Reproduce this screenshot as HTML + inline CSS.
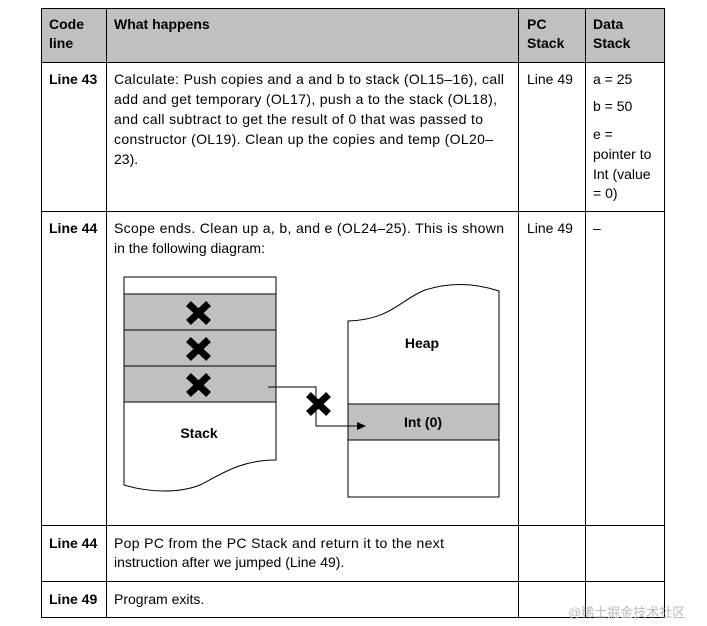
<!DOCTYPE html>
<html><head><meta charset="utf-8"><style>
html,body{margin:0;padding:0;background:#fff;}
svg{display:block;}
text{font-family:"Liberation Sans Narrow","Liberation Sans",Arial,sans-serif;font-size:14px;fill:#000;}
.b{font-weight:bold;}
</style></head><body>
<svg width="707" height="626" viewBox="0 0 707 626" xmlns="http://www.w3.org/2000/svg">
<rect x="41" y="8" width="623" height="54" fill="#c0c0c0"/>
<g stroke="#000" stroke-width="1" fill="none">
<rect x="41.5" y="8.5" width="623" height="609"/>
<line x1="41" y1="62.5" x2="664" y2="62.5"/>
<line x1="41" y1="211.5" x2="664" y2="211.5"/>
<line x1="41" y1="525.5" x2="664" y2="525.5"/>
<line x1="41" y1="581.5" x2="664" y2="581.5"/>
<line x1="106.5" y1="8" x2="106.5" y2="617"/>
<line x1="518.5" y1="8" x2="518.5" y2="617"/>
<line x1="585.5" y1="8" x2="585.5" y2="617"/>
</g>
<text class="b" x="49" y="29">Code</text>
<text class="b" x="49" y="48">line</text>
<text class="b" x="114" y="29">What happens</text>
<text class="b" x="527" y="29">PC</text>
<text class="b" x="527" y="48">Stack</text>
<text class="b" x="593" y="29">Data</text>
<text class="b" x="593" y="48">Stack</text>

<text class="b" x="49" y="84">Line 43</text>
<text x="114" y="84" textLength="390">Calculate: Push copies and a and b to stack (OL15–16), call</text>
<text x="114" y="104" textLength="383">add and get temporary (OL17), push a to the stack (OL18),</text>
<text x="114" y="124" textLength="369">and call subtract to get the result of 0 that was passed to</text>
<text x="114" y="144" textLength="379">constructor (OL19). Clean up the copies and temp (OL20–</text>
<text x="114" y="164">23).</text>
<text x="527" y="84">Line 49</text>
<text x="593" y="84">a = 25</text>
<text x="593" y="111">b = 50</text>
<text x="593" y="139">e =</text>
<text x="593" y="159">pointer to</text>
<text x="593" y="179">Int (value</text>
<text x="593" y="198">= 0)</text>

<text class="b" x="49" y="233">Line 44</text>
<text x="114" y="233" textLength="390">Scope ends. Clean up a, b, and e (OL24–25). This is shown</text>
<text x="114" y="253">in the following diagram:</text>
<text x="527" y="233">Line 49</text>
<text x="593" y="233">–</text>

<g stroke="#000" stroke-width="1">
<rect x="124" y="294" width="152" height="108" fill="#c0c0c0"/>
<path d="M124 277 H276 V460 C240 460 220 475 200 485 C180 493 150 493 124 485 Z" fill="none"/>
<line x1="124" y1="330" x2="276" y2="330"/>
<line x1="124" y1="366" x2="276" y2="366"/>
<rect x="348" y="404" width="151" height="36" fill="#c0c0c0"/>
<path d="M348 321 C390 320 400 300 425 290 C450 282 475 283 499 291 V497 H348 Z" fill="none"/>
<polyline points="268,387 316,387 316,426 360,426" fill="none"/>
</g>
<polygon points="366,426 357,422 357,430" fill="#000"/>
<g stroke="#000" stroke-width="7" stroke-linecap="square">
<path d="M191 306 L206 320 M206 306 L191 320"/>
<path d="M191 342 L206 356 M206 342 L191 356"/>
<path d="M191 378 L206 392 M206 378 L191 392"/>
<path d="M311 397 L326 411 M326 397 L311 411"/>
</g>
<text class="b" x="199" y="438" text-anchor="middle">Stack</text>
<text class="b" x="422" y="348" text-anchor="middle">Heap</text>
<text class="b" x="423" y="427" text-anchor="middle">Int (0)</text>

<text class="b" x="49" y="548">Line 44</text>
<text x="114" y="548" textLength="330">Pop PC from the PC Stack and return it to the next</text>
<text x="114" y="567">instruction after we jumped (Line 49).</text>
<text class="b" x="49" y="604">Line 49</text>
<text x="114" y="604">Program exits.</text>
<text x="568" y="617" style="font-size:13px;fill:#bbb;font-family:'Liberation Sans','Noto Sans CJK SC',sans-serif">@稀土掘金技术社区</text>
</svg>
</body></html>
